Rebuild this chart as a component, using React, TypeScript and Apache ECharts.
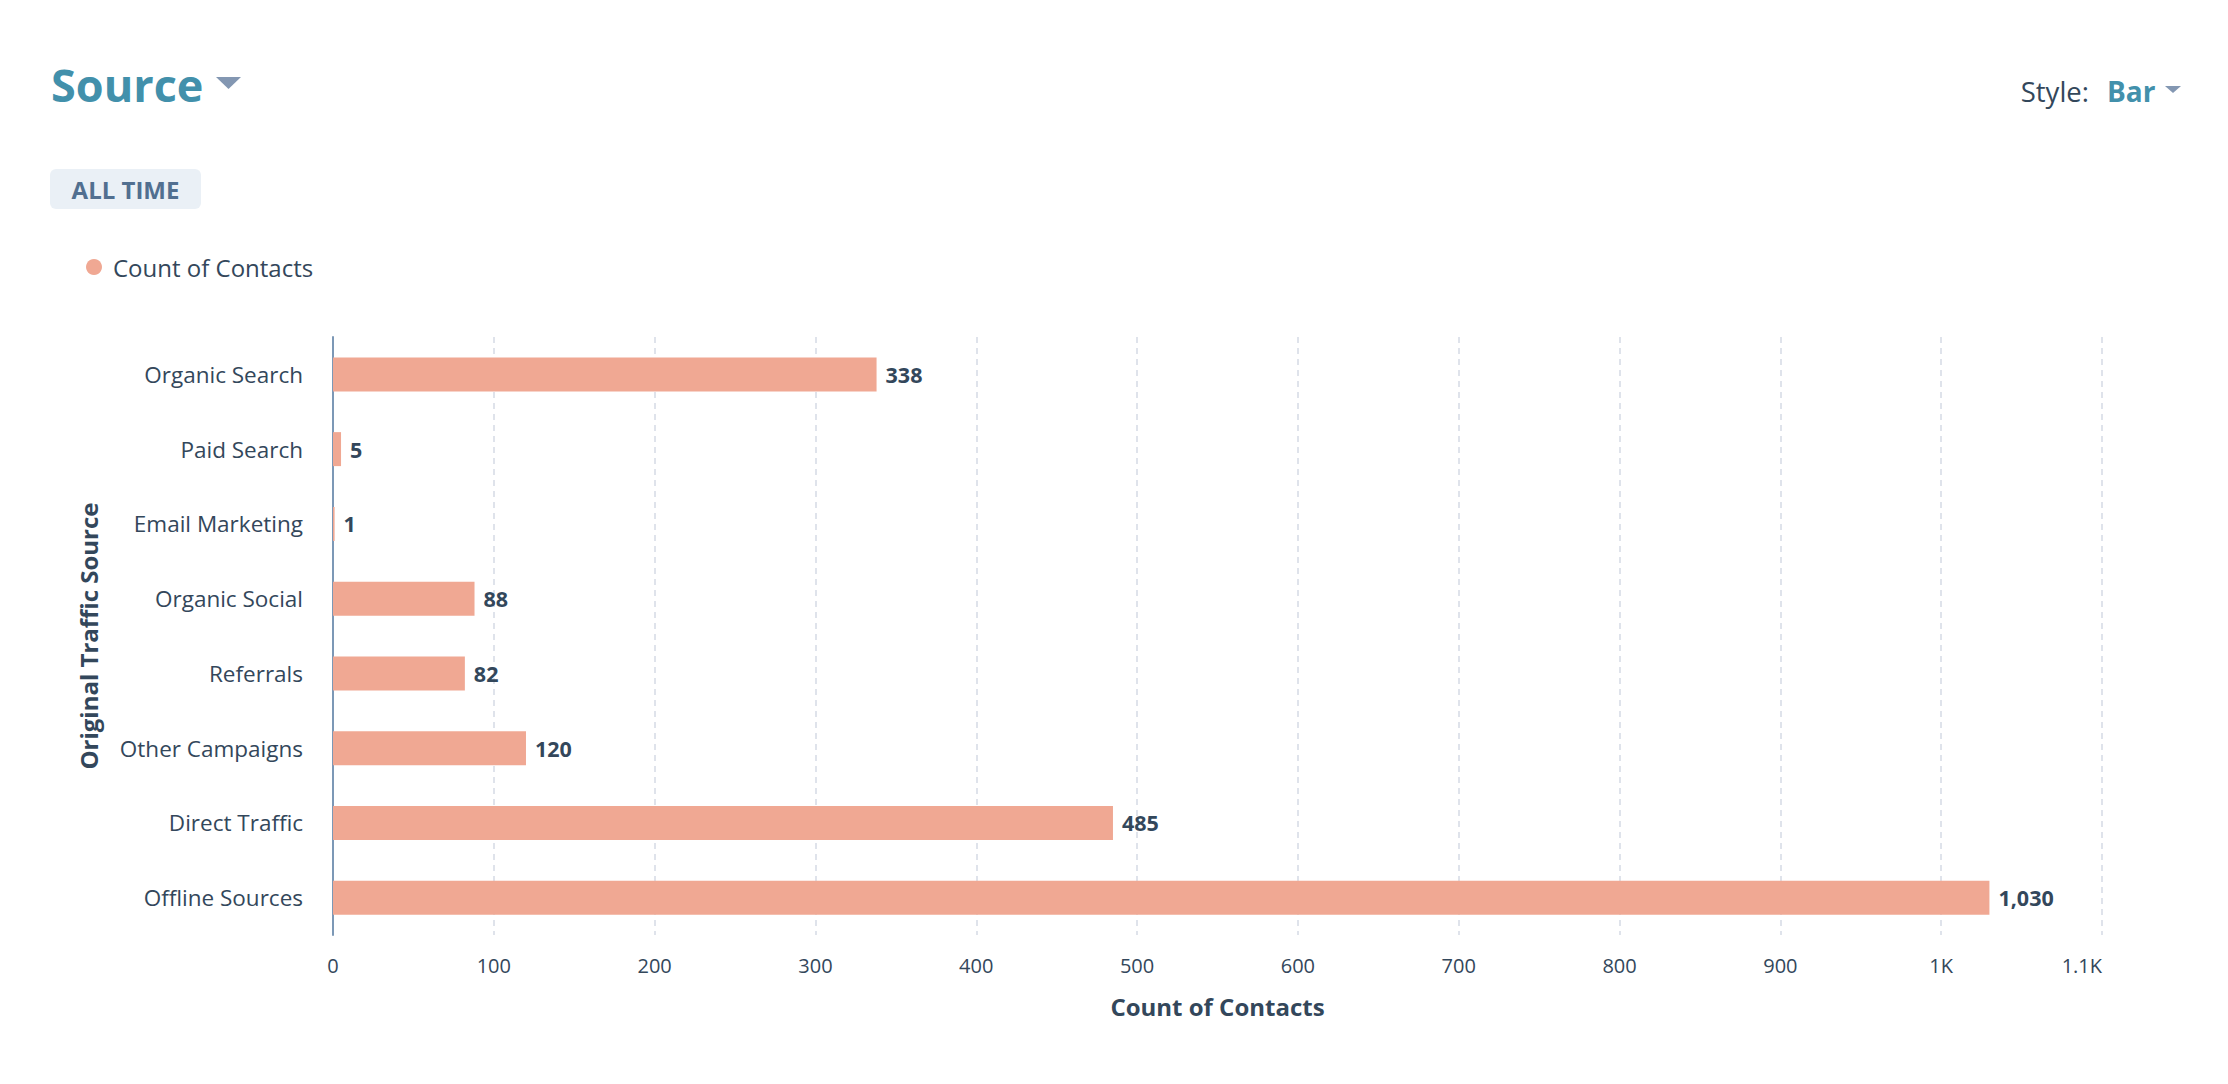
import React, { useEffect, useRef } from "react";
import * as echarts from "echarts";

const categories = [
  "Organic Search",
  "Paid Search",
  "Email Marketing",
  "Organic Social",
  "Referrals",
  "Other Campaigns",
  "Direct Traffic",
  "Offline Sources",
];
const counts = [338, 5, 1, 88, 82, 120, 485, 1030];
const seriesName = "Count of Contacts";
const xAxisName = "Count of Contacts";
const yAxisName = "Original Traffic Source";
const xMin = 0;
const xMax = 1100;
const xInterval = 100;

const FONT = "'Open Sans', sans-serif";
const DARK = "#33475b";
const TEAL = "#4290ab";
const CARET = "#8397b2";

export default function App() {
  const ref = useRef<HTMLDivElement>(null);
  useEffect(() => {
    document.body.style.margin = "0";
    const chart = echarts.init(ref.current!, null, { renderer: "svg" });
    chart.setOption({
      animation: false,
      backgroundColor: "#ffffff",
      textStyle: { fontFamily: FONT, color: DARK },
      legend: {
        data: [seriesName],
        left: 86,
        top: 255,
        padding: 0,
        icon: "circle",
        itemWidth: 16,
        itemHeight: 16,
        textStyle: { fontFamily: FONT, fontSize: 24, color: DARK, padding: [0, 0, 0, 6] },
      },
      grid: { left: 333, right: 126, top: 337, bottom: 149, containLabel: false },
      xAxis: {
        type: "value",
        min: xMin,
        max: xMax,
        interval: xInterval,
        name: xAxisName,
        nameLocation: "middle",
        nameGap: 59,
        nameTextStyle: { fontFamily: FONT, fontSize: 24, fontWeight: "bold", color: DARK },
        axisLine: { show: false },
        axisTick: { show: false },
        axisLabel: {
          fontFamily: FONT,
          fontSize: 20,
          color: DARK,
          margin: 20,
          alignMaxLabel: "right",
          formatter: (v: number) => (v >= 1000 ? `${v / 1000}K` : `${v}`),
        },
        splitLine: { show: true, lineStyle: { color: "#dfe3eb", type: [6, 5], width: 2 } },
      },
      yAxis: {
        type: "category",
        data: categories,
        inverse: true,
        name: yAxisName,
        nameLocation: "middle",
        nameGap: 233,
        nameRotate: 90,
        nameTextStyle: { fontFamily: FONT, fontSize: 24, fontWeight: "bold", color: DARK },
        axisLine: { show: true, lineStyle: { color: "#7c98b6", width: 2 } },
        axisTick: { show: false },
        axisLabel: { fontFamily: FONT, fontSize: 22.5, color: DARK, margin: 30 },
        splitLine: { show: false },
      },
      series: [
        {
          name: seriesName,
          type: "bar",
          data: counts,
          barWidth: 34,
          itemStyle: { color: "#f0a893" },
          label: {
            show: true,
            position: "right",
            distance: 9,
            fontFamily: FONT,
            fontSize: 21.5,
            fontWeight: "bold",
            color: DARK,
            formatter: (p: any) => Number(p.value).toLocaleString("en-US"),
          },
        },
      ],
      graphic: [
        {
          type: "text",
          x: 51,
          y: 84,
          style: {
            text: "Source",
            fontFamily: FONT,
            fontSize: 45,
            fontWeight: "bold",
            fill: TEAL,
            align: "left",
            verticalAlign: "middle",
          },
        },
        {
          type: "polygon",
          shape: { points: [[216, 77], [241, 77], [228.5, 89]] },
          style: { fill: CARET },
        },
        {
          type: "rect",
          shape: { x: 50, y: 169, width: 151, height: 40, r: 6 },
          style: { fill: "#eaf0f6" },
        },
        {
          type: "text",
          x: 125.5,
          y: 189,
          style: {
            text: "ALL TIME",
            fontFamily: FONT,
            fontSize: 24,
            fontWeight: "bold",
            fill: "#516f90",
            align: "center",
            verticalAlign: "middle",
          },
        },
        {
          type: "text",
          x: 2089,
          y: 91,
          style: {
            text: "Style:",
            fontFamily: FONT,
            fontSize: 27.5,
            fill: DARK,
            align: "right",
            verticalAlign: "middle",
          },
        },
        {
          type: "text",
          x: 2107,
          y: 91,
          style: {
            text: "Bar",
            fontFamily: FONT,
            fontSize: 28,
            fontWeight: "bold",
            fill: TEAL,
            align: "left",
            verticalAlign: "middle",
          },
        },
        {
          type: "polygon",
          shape: { points: [[2165, 86], [2181, 86], [2173, 93]] },
          style: { fill: CARET },
        },
      ],
    });
    return () => chart.dispose();
  }, []);
  return (
    <div
      ref={ref}
      style={{ position: "fixed", left: 0, top: 0, width: 2228, height: 1084, background: "#fff" }}
    />
  );
}
